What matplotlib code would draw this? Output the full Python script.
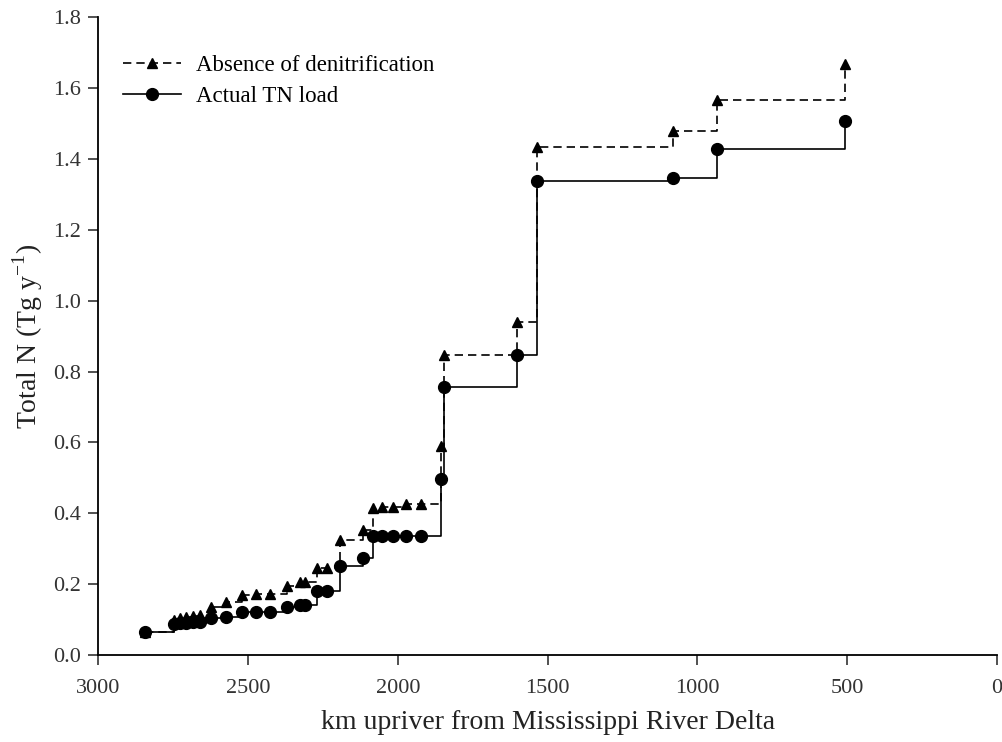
import numpy as np
import matplotlib.pyplot as plt

plt.rcParams['font.family'] = ['Liberation Serif', 'DejaVu Serif']
plt.rcParams['mathtext.fontset'] = 'custom'
plt.rcParams['mathtext.rm'] = 'Liberation Serif'

# km upriver from the delta
km = [2843, 2746, 2726, 2706, 2683, 2660, 2623, 2573, 2520, 2473, 2426,
      2371, 2326, 2309, 2270, 2237, 2192, 2117, 2083, 2053, 2017, 1972,
      1923, 1856, 1847, 1603, 1534, 1082, 935, 507]

# Total N, Tg/y
no_denit = [0.065, 0.100, 0.105, 0.108, 0.110, 0.112, 0.136, 0.150, 0.169,
            0.174, 0.174, 0.195, 0.207, 0.207, 0.247, 0.247, 0.324, 0.353,
            0.415, 0.418, 0.418, 0.426, 0.426, 0.590, 0.848, 0.940, 1.434,
            1.478, 1.566, 1.667]
actual_tn = [0.065, 0.088, 0.090, 0.092, 0.094, 0.095, 0.104, 0.108, 0.122,
             0.122, 0.122, 0.135, 0.141, 0.141, 0.180, 0.180, 0.251, 0.274,
             0.336, 0.336, 0.336, 0.336, 0.336, 0.498, 0.757, 0.846, 1.337,
             1.345, 1.427, 1.507]

fig = plt.figure(figsize=(10.02, 7.42), dpi=100)
ax = fig.add_axes([0.098, 0.117, 0.897, 0.860])

ax.plot(km, no_denit, color='black', linestyle=(0, (5, 3)), linewidth=1.2,
        drawstyle='steps-post', marker='^', markersize=7.5,
        label='Absence of denitrification')
ax.plot(km, actual_tn, color='black', linestyle='-', linewidth=1.2,
        drawstyle='steps-post', marker='o', markersize=8.5,
        label='Actual TN load')

ax.set_xlim(3000, 0)
ax.set_ylim(0, 1.8)
ax.set_xticks([3000, 2500, 2000, 1500, 1000, 500, 0])
ax.set_yticks(np.arange(0, 1.81, 0.2))
ax.yaxis.set_major_formatter(plt.FormatStrFormatter('%.1f'))

ax.spines['top'].set_visible(False)
ax.spines['right'].set_visible(False)
for s in ['left', 'bottom']:
    ax.spines[s].set_linewidth(1.3)
ax.tick_params(direction='out', length=7, width=1.2, labelsize=16,
               colors='#333333', labelcolor='#333333')
ax.tick_params(axis='x', pad=10.5)
ax.tick_params(axis='y', pad=5.5)

ax.set_xlabel('km upriver from Mississippi River Delta', fontsize=20, labelpad=8, color='#222222')
ax.set_ylabel('Total N (Tg y$^{\\mathregular{-1}}$)', fontsize=20, labelpad=6, color='#222222')

ax.legend(loc='upper left', frameon=False, fontsize=16.5, handlelength=2.5,
          handletextpad=0.65, borderpad=0, borderaxespad=0, labelspacing=0.4,
          bbox_to_anchor=(0.028, 0.94))

fig.savefig('out.png', dpi=100)
